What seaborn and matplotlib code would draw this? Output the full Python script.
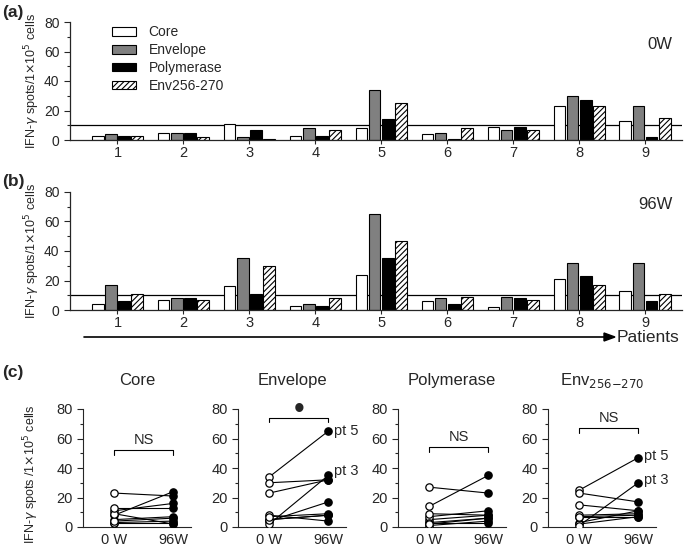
import numpy as np
import pandas as pd
import seaborn as sns
import matplotlib.pyplot as plt
from matplotlib.patches import Patch

# data
patients = ['1', '2', '3', '4', '5', '6', '7', '8', '9']
antigens = ['Core', 'Envelope', 'Polymerase', 'Env256-270']
core_0w = [3, 5, 11, 3, 8, 4, 9, 23, 13]
env_0w = [4, 5, 2, 8, 34, 5, 7, 30, 23]
pol_0w = [3, 5, 7, 3, 14, 1, 9, 27, 2]
e256_0w = [3, 2, 1, 7, 25, 8, 7, 23, 15]
core_96w = [4, 7, 16, 3, 24, 6, 2, 21, 13]
env_96w = [17, 8, 35, 4, 65, 8, 9, 32, 32]
pol_96w = [6, 8, 11, 3, 35, 4, 8, 23, 6]
e256_96w = [11, 7, 30, 8, 47, 9, 7, 17, 11]
cutoff = 10

sns.set_style('ticks')
plt.rcParams['font.family'] = ['Liberation Sans', 'DejaVu Sans']
plt.rcParams['hatch.linewidth'] = 0.8

W, H = 685, 549
fig = plt.figure(figsize=(W / 100, H / 100), dpi=100)


def px_axes(l, t, r, b):
    return fig.add_axes([l / W, 1 - b / H, (r - l) / W, (b - t) / H])


face = {'Core': 'white', 'Envelope': '#808080', 'Polymerase': 'black', 'Env256-270': 'white'}
hatch = {'Core': None, 'Envelope': None, 'Polymerase': None, 'Env256-270': '//////'}
ylab = 'IFN-$\\gamma$ spots/1$\\times$10$^5$ cells'


def bar_panel(ax, vals, tag, tag_y):
    df = pd.DataFrame({
        'patient': patients * 4,
        'antigen': np.repeat(antigens, 9),
        'spots': sum(vals, []),
    })
    sns.barplot(data=df, x='patient', y='spots', hue='antigen', hue_order=antigens,
                order=patients, ax=ax, width=0.8, legend=False, errorbar=None)
    for cont, ag in zip(ax.containers, antigens):
        for bar in cont:
            bar.set_facecolor(face[ag])
            bar.set_edgecolor('black')
            bar.set_linewidth(0.8)
            if hatch[ag]:
                bar.set_hatch(hatch[ag])
            # shrink a bit so bars have small gaps
            x0, w = bar.get_x(), bar.get_width()
            bar.set_x(x0 + w * 0.06)
            bar.set_width(w * 0.88)
    ax.axhline(cutoff, color='black', lw=0.9, zorder=0.5)
    ax.set_xlim(-0.72, 8.56)
    ax.set_ylim(0, 80)
    ax.set_yticks([0, 20, 40, 60, 80])
    ax.set_yticks(range(10, 80, 20), minor=True)
    ax.set_xlabel('')
    ax.set_ylabel(ylab, fontsize=9)
    ax.yaxis.set_label_coords(-0.046, 0.5)
    ax.tick_params(labelsize=10, width=0.8, length=4)
    ax.tick_params(axis='x', length=3, pad=1.5, labelsize=10.5)
    ax.tick_params(which='minor', width=0.8, length=2.5)
    for s in ['left', 'bottom']:
        ax.spines[s].set_linewidth(0.9)
    sns.despine(ax=ax)
    ax.text(0.985, tag_y, tag, transform=ax.transAxes, ha='right', va='center', fontsize=12)


ax_a = px_axes(70, 22, 682, 140)
bar_panel(ax_a, [core_0w, env_0w, pol_0w, e256_0w], '0W', 0.81)
handles = [Patch(facecolor=face[a], edgecolor='black', hatch=hatch[a], linewidth=0.8) for a in antigens]
ax_a.legend(handles, antigens, loc='upper left', bbox_to_anchor=(0.06, 1.02), frameon=False,
            fontsize=10, handlelength=1.7, handleheight=0.6, labelspacing=0.28,
            handletextpad=0.9, borderaxespad=0)

ax_b = px_axes(70, 192, 682, 310)
bar_panel(ax_b, [core_96w, env_96w, pol_96w, e256_96w], '96W', 0.89)

fig.text(2 / W, 1 - 12 / H, '(a)', fontsize=12.5, fontweight='bold', va='center')
fig.text(2 / W, 1 - 181 / H, '(b)', fontsize=12.5, fontweight='bold', va='center')
fig.text(2 / W, 1 - 373 / H, '(c)', fontsize=12.5, fontweight='bold', va='center')

# patients arrow
fig.add_artist(plt.Line2D([84 / W, 608 / W], [1 - 337 / H, 1 - 337 / H], color='black', lw=1.2))
fig.patches.append(plt.Polygon([[604 / W, 1 - 333 / H], [615 / W, 1 - 337 / H], [604 / W, 1 - 341 / H]],
                               closed=True, color='black', transform=fig.transFigure, figure=fig))
fig.text(617 / W, 1 - 338 / H, 'Patients', fontsize=12.5, va='center')

# panel (c)
pair_titles = ['Core', 'Envelope', 'Polymerase', 'Env$_{256\\mathrm{-}270}$']
pairs = [(core_0w, core_96w), (env_0w, env_96w), (pol_0w, pol_96w), (e256_0w, e256_96w)]
spines_x = [83, 238, 398, 548]
brackets = [(52, 'NS'), (74, '•'), (54, 'NS'), (67, 'NS')]
pt_labels = [[], [(65, 'pt 5'), (38, 'pt 3')], [], [(48, 'pt 5'), (32, 'pt 3')]]

for i in range(4):
    x0 = spines_x[i]
    ax = px_axes(x0, 409, x0 + 108, 527)
    v0, v1 = pairs[i]
    df = pd.DataFrame({
        'patient': patients * 2,
        'time': [0] * 9 + [1] * 9,
        'spots': v0 + v1,
    })
    sns.lineplot(data=df, x='time', y='spots', units='patient', estimator=None,
                 color='black', lw=0.8, ax=ax)
    sns.scatterplot(data=df[df.time == 0], x='time', y='spots', ax=ax, s=28,
                    facecolor='white', edgecolor='black', linewidth=0.9, zorder=3)
    sns.scatterplot(data=df[df.time == 1], x='time', y='spots', ax=ax, s=28,
                    color='black', edgecolor='black', linewidth=0.9, zorder=3)
    ax.set_xlim(-0.53, 1.3)
    ax.set_ylim(0, 80)
    ax.set_xticks([0, 1])
    ax.set_xticklabels(['0 W', '96W'])
    ax.set_yticks([0, 20, 40, 60, 80])
    ax.set_yticks(range(10, 80, 20), minor=True)
    ax.tick_params(labelsize=10.5, width=0.8, length=4)
    ax.tick_params(axis='x', length=0, pad=4)
    ax.tick_params(which='minor', width=0.8, length=2.5)
    ax.set_xlabel('')
    if i == 0:
        ax.set_ylabel('IFN-$\\gamma$ spots /1$\\times$10$^5$ cells', fontsize=9)
        ax.yaxis.set_label_coords(-0.39, 0.45)
    else:
        ax.set_ylabel('')
    sns.despine(ax=ax)
    ax.set_title(pair_titles[i], fontsize=12, pad=17)
    by, txt = brackets[i]
    ax.plot([0, 0, 1, 1], [by - 3, by, by, by - 3], color='black', lw=0.8, clip_on=False)
    if txt == 'NS':
        ax.text(0.5, by + 2, txt, ha='center', va='bottom', fontsize=10.5)
    else:
        ax.text(0.5, by + 5, txt, ha='center', va='center', fontsize=22)
    for y, t in pt_labels[i]:
        ax.text(1.1, y, t, ha='left', va='center', fontsize=10.5, clip_on=False)

fig.savefig('out.png', dpi=100)
